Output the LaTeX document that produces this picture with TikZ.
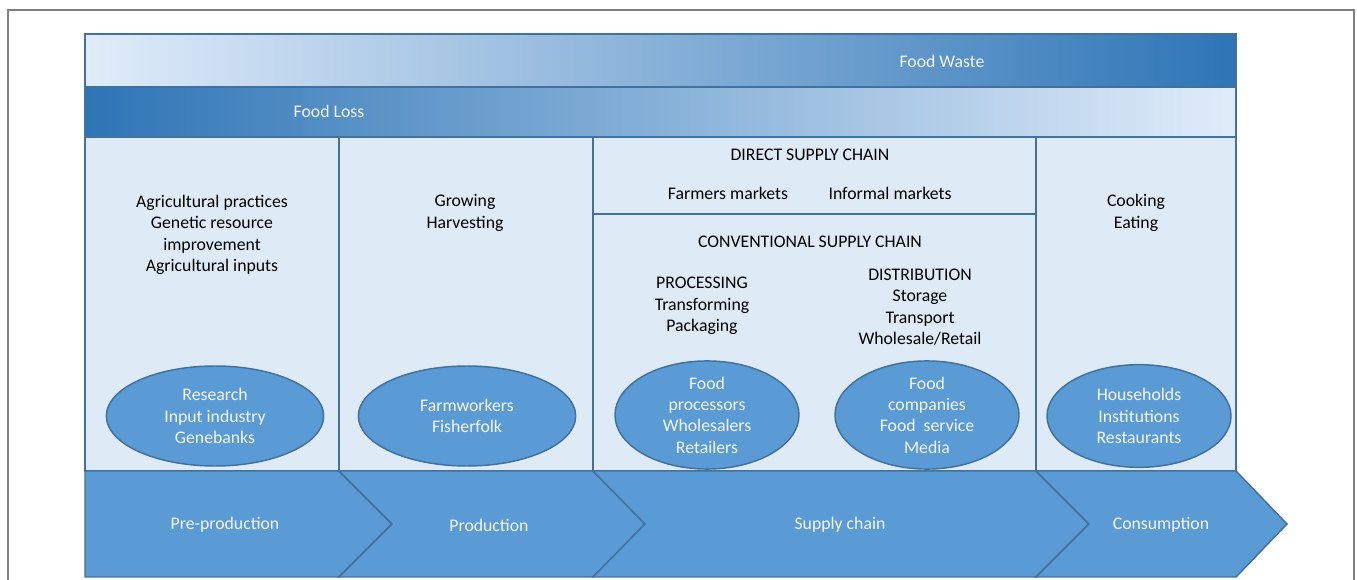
\documentclass[tikz,border=0pt]{standalone}
\usepackage{fontspec}
\setmainfont{Carlito}
\usepackage{xcolor}
\usetikzlibrary{shapes.geometric}

\definecolor{edgeblue}{HTML}{41719C}
\definecolor{paleblue}{HTML}{DEEAF6}
\definecolor{midblue}{HTML}{5B9BD5}
\definecolor{deepblue}{HTML}{2E75B6}
\definecolor{fadeblue}{HTML}{E0ECFA}
\definecolor{lossmid}{HTML}{C4DAF4}
\definecolor{framegray}{HTML}{808080}
\definecolor{offwhite}{HTML}{F4F7FB}

\begin{document}
\begin{tikzpicture}[x=0.75pt,y=-0.75pt,
    every node/.style={font=\fontsize{13.3}{16}\selectfont, align=center, inner sep=0pt},
    panel/.style={draw=edgeblue, line width=1.1pt, fill=paleblue},
    band/.style={draw=edgeblue, line width=1.1pt},
    stage/.style={draw=edgeblue, line width=1.1pt, fill=midblue},
    actor/.style={ellipse, draw=edgeblue, line width=1.1pt, fill=midblue, text=offwhite},
    wide/.style={minimum width=163pt, minimum height=75pt},
    narrow/.style={minimum width=138pt, minimum height=77pt},
    wlabel/.style={text=offwhite}]
            \useasboundingbox (0,0) rectangle (1357,580);
            \draw[framegray, line width=0.9pt] (8,580)--(8,10)--(1354,10)--(1354,580);
            % waste and loss bands
            \draw[band, left color=fadeblue, right color=deepblue] (85,34) rectangle (1236,87);
            \draw[band, left color=deepblue, middle color=lossmid, right color=fadeblue] (85,87) rectangle (1236,137);
            \node[wlabel] (waste) at (942,61) {Food Waste};
            \node[wlabel] (loss) at (329,111) {Food Loss};
            % columns
            \draw[panel] (85,137) rectangle (339,471);
            \draw[panel] (339,137) rectangle (593,471);
            \draw[panel] (593,137) rectangle (1036,214);
            \draw[panel] (593,214) rectangle (1036,471);
            \draw[panel] (1036,137) rectangle (1236,471);
            \node (pretext) at (212,235) {Agricultural practices\\Genetic resource\\improvement\\Agricultural inputs};
            \node (prodtext) at (465,213) {Growing\\Harvesting};
            \node (direct) at (810,155) {DIRECT SUPPLY CHAIN};
            \node (farmers) at (728,193) {Farmers markets};
            \node (informal) at (890,193) {Informal markets};
            \node (conv) at (810,242) {CONVENTIONAL SUPPLY CHAIN};
            \node (processing) at (702,306) {PROCESSING\\Transforming\\Packaging};
            \node (distribution) at (920,307) {DISTRIBUTION\\Storage\\Transport\\Wholesale/Retail};
            \node (constext) at (1136,213) {Cooking\\Eating};
            % actors
            \node[actor, wide] (research) at (215,416) {Research\\Input industry\\Genebanks};
            \node[actor, wide] (farmworkers) at (467,416) {Farmworkers\\Fisherfolk};
            \node[actor, narrow] (processors) at (707,415) {Food\\processors\\Wholesalers\\Retailers};
            \node[actor, narrow] (companies) at (927,415) {Food\\companies\\Food~~service\\Media};
            \node[actor, narrow] (households) at (1139,416) {Households\\Institutions\\Restaurants};
            % stages
            \draw[stage] (85,471)--(339,471)--(392,524)--(339,577)--(85,577)--cycle;
            \draw[stage] (339,471)--(593,471)--(645,524)--(593,577)--(339,577)--(392,524)--cycle;
            \draw[stage] (593,471)--(1036,471)--(1089,524)--(1036,577)--(593,577)--(645,524)--cycle;
            \draw[stage] (1036,471)--(1236,471)--(1287,524)--(1236,577)--(1036,577)--(1089,524)--cycle;
            \node[wlabel] (preprod) at (225,525) {Pre-production};
            \node[wlabel] (production) at (489,525) {Production};
            \node[wlabel] (supply) at (840,525) {Supply chain};
            \node[wlabel] (consumption) at (1161,525) {Consumption};
\end{tikzpicture}
\end{document}
